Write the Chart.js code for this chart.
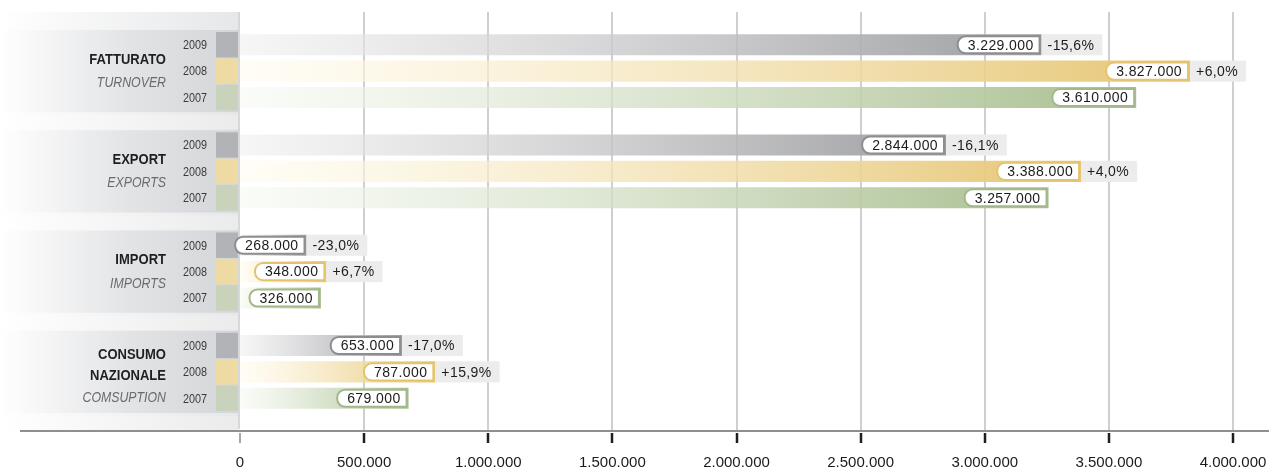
<!DOCTYPE html>
<html>
<head>
<meta charset="utf-8">
<script src="https://cdn.jsdelivr.net/npm/chart.js@4/dist/chart.umd.min.js"></script>
<style>
  html, body { margin: 0; padding: 0; background: #fff; }
  #myChart { display: block; }
</style>
</head>
<body>
<canvas id="myChart" width="1269" height="470"></canvas>
<script>
const categories = ["FATTURATO", "EXPORT", "IMPORT", "CONSUMO NAZIONALE"];
const titleLines = [["FATTURATO"], ["EXPORT"], ["IMPORT"], ["CONSUMO", "NAZIONALE"]];
const englishLabels = ["TURNOVER", "EXPORTS", "IMPORTS", "COMSUPTION"];
const years = ["2009", "2008", "2007"];
const values2009 = [3229000, 2844000, 268000, 653000];
const values2008 = [3827000, 3388000, 348000, 787000];
const values2007 = [3610000, 3257000, 326000, 679000];
const change2009 = ["-15,6%", "-16,1%", "-23,0%", "-17,0%"];
const change2008 = ["+6,0%", "+4,0%", "+6,7%", "+15,9%"];
const xMax = 4000000;
const xStep = 500000;

const FONT = "'Liberation Sans', Arial, sans-serif";

// colours per year: start of gradient, end of gradient, box border, left square
const yearColors = [
  { from: "rgba(240,240,241,0.6)", to: "#9d9ea1", line: "#8c8d90", square: "#b2b3b6" },
  { from: "rgba(255,252,240,0.6)", to: "#e6c674", line: "#e3c46c", square: "#eedba4" },
  { from: "rgba(247,250,243,0.6)", to: "#a9bf90", line: "#a2b78a", square: "#c9d3bc" },
];
const changes = [change2009, change2008, null];

const fmt = (n) => String(n).replace(/\B(?=(\d{3})+(?!\d))/g, ".");

// text squeezed horizontally (the original uses a condensed face)
const narrowText = (c, txt, x, y, squeeze) => {
  const w = c.measureText(txt).width;
  c.fillText(txt, x, y, w * squeeze);
};

const barGradient = (yi) => (ctx) => {
  const chart = ctx.chart;
  const x = chart.scales.x;
  if (!chart.chartArea || !x) return yearColors[yi].to;
  const end = x.getPixelForValue(ctx.raw);
  const g = chart.ctx.createLinearGradient(chart.chartArea.left, 0, Math.max(end, chart.chartArea.left + 1), 0);
  g.addColorStop(0, yearColors[yi].from);
  g.addColorStop(1, yearColors[yi].to);
  return g;
};

// background panel, grid lines and axis
const backPlugin = {
  id: "back",
  beforeDraw(chart) {
    const c = chart.ctx;
    const x = chart.scales.x;
    const y = chart.scales.y;
    const left = chart.chartArea.left;
    const axisY = chart.chartArea.bottom + 9;
    c.save();
    c.fillStyle = "#fff";
    c.fillRect(0, 0, chart.width, chart.height);

    // left panel
    let g = c.createLinearGradient(0, 0, left, 0);
    g.addColorStop(0, "#ffffff");
    g.addColorStop(1, "#e6e7e9");
    c.fillStyle = g;
    c.fillRect(0, 12, left, axisY - 14);
    const half = (y.getPixelForValue(1) - y.getPixelForValue(0)) * 0.4;
    categories.forEach((cat, i) => {
      const cy = y.getPixelForValue(i);
      g = c.createLinearGradient(0, 0, left, 0);
      g.addColorStop(0, "#ffffff");
      g.addColorStop(0.55, "#e2e3e5");
      g.addColorStop(1, "#d3d5d8");
      c.fillStyle = g;
      c.fillRect(0, cy - half - 1, left, half * 2 + 2);
      // light strip under the group
      g = c.createLinearGradient(0, 0, left, 0);
      g.addColorStop(0, "#ffffff");
      g.addColorStop(1, "#ebebec");
      c.fillStyle = g;
      c.fillRect(4, cy + half + 4, left - 6, 14);
    });
    c.fillStyle = "#d8d8da";
    c.fillRect(left - 2, 12, 2, axisY - 14);

    // grid lines
    c.strokeStyle = "#cfcfcf";
    c.lineWidth = 2;
    for (let v = xStep; v <= xMax; v += xStep) {
      const px = Math.round(x.getPixelForValue(v));
      c.beginPath();
      c.moveTo(px, 12);
      c.lineTo(px, axisY);
      c.stroke();
    }
    // axis line
    c.strokeStyle = "#8f8f8f";
    c.lineWidth = 2;
    c.beginPath();
    c.moveTo(20, axisY);
    c.lineTo(chart.width, axisY);
    c.stroke();
    // tick marks
    for (let v = 0; v <= xMax; v += xStep) {
      const px = Math.round(x.getPixelForValue(v));
      c.strokeStyle = v === 0 ? "#8a8a8a" : "#1e1e1e";
      c.lineWidth = v === 0 ? 1.5 : 2.5;
      c.beginPath();
      c.moveTo(px, axisY + 2);
      c.lineTo(px, axisY + 12);
      c.stroke();
    }
    c.restore();
  },
  afterDatasetsDraw(chart) {
    const c = chart.ctx;
    const y = chart.scales.y;
    const left = chart.chartArea.left;
    c.save();
    c.textBaseline = "middle";

    categories.forEach((cat, i) => {
      const cy = y.getPixelForValue(i);
      const lines = titleLines[i];
      const total = lines.length + 1;
      const step = total === 3 ? 21.5 : 23;
      const start = cy + (total === 3 ? 4.5 : 0.5) - (total - 1) * step / 2;
      c.textAlign = "right";
      c.fillStyle = "#1f1f1f";
      c.font = "bold 14px " + FONT;
      lines.forEach((l, k) => narrowText(c, l, 166, start + k * step, 0.93));
      c.fillStyle = "#6a6a6a";
      c.font = "italic 14px " + FONT;
      narrowText(c, englishLabels[i], 166, start + lines.length * step, 0.88);
    });

    chart.data.datasets.forEach((ds, di) => {
      const meta = chart.getDatasetMeta(di);
      meta.data.forEach((bar, i) => {
        const slot = bar.height / 0.8;
        // left square and year
        c.fillStyle = yearColors[di].square;
        c.fillRect(216, bar.y - slot / 2 + 0.5, left - 216 - 2, slot - 1);
        c.textAlign = "left";
        c.fillStyle = "#3a3a3a";
        c.font = "12px " + FONT;
        narrowText(c, years[di], 183, bar.y + 1, 0.9);

        // value box
        const end = bar.x;
        const top = bar.y - bar.height / 2;
        c.font = "14px " + FONT;
        c.letterSpacing = "0.4px";
        const txt = fmt(ds.data[i]);
        const tw = c.measureText(txt).width;
        const bw = tw + 16;
        const bh = bar.height - 4;
        const bx = end - bw - 2;
        const by = top + 2;
        c.beginPath();
        c.roundRect(bx, by, bw, bh, [8, 0, 0, 8]);
        c.fillStyle = "#ffffff";
        c.fill();
        c.strokeStyle = yearColors[di].line;
        c.lineWidth = 2;
        c.stroke();
        c.fillStyle = "#1c1c1c";
        c.textAlign = "right";
        c.fillText(txt, end - 8, bar.y + 1);

        // change box
        if (changes[di]) {
          const ct = changes[di][i];
          const cw = c.measureText(ct).width;
          c.fillStyle = "#ececec";
          c.fillRect(end, top, cw + 14, bar.height);
          c.fillStyle = "#1c1c1c";
          c.textAlign = "left";
          c.fillText(ct, end + 6, bar.y + 1);
        }
        c.letterSpacing = "0px";
      });
    });
    c.restore();
  },
};

const chartElement = document.getElementById("myChart");
const myChart = new Chart(chartElement, {
  type: "bar",
  data: {
    labels: categories,
    datasets: [
      { label: years[0], data: values2009, backgroundColor: barGradient(0) },
      { label: years[1], data: values2008, backgroundColor: barGradient(1) },
      { label: years[2], data: values2007, backgroundColor: barGradient(2) },
    ],
  },
  options: {
    indexAxis: "y",
    responsive: false,
    animation: false,
    events: [],
    layout: { padding: { left: 240, right: 36, top: 21, bottom: 0 } },
    categoryPercentage: 0.79,
    barPercentage: 0.8,
    borderWidth: 0,
    plugins: {
      legend: { display: false },
      tooltip: { enabled: false },
    },
    scales: {
      y: { display: false },
      x: {
        min: 0,
        max: xMax,
        grid: { display: false, drawTicks: false },
        border: { display: false },
        afterFit: (scale) => {
          scale.height = 48;
          scale.paddingLeft = 0;
          scale.paddingRight = 0;
        },
        ticks: {
          stepSize: xStep,
          padding: 32,
          maxRotation: 0,
          autoSkip: false,
          color: "#1a1a1a",
          font: { family: FONT, size: 15 },
          callback: (v) => fmt(v),
        },
      },
    },
  },
  plugins: [backPlugin],
});
</script>
</body>
</html>
